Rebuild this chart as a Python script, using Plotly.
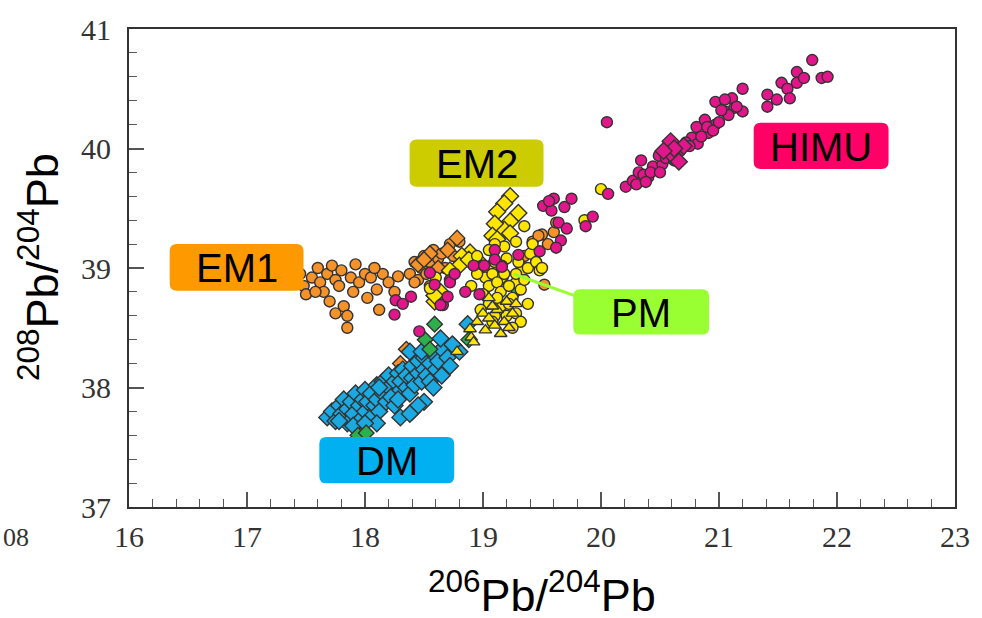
import plotly.graph_objects as go

# ---------------- data (206Pb/204Pb, 208Pb/204Pb) ----------------
em1_circ_x = [17.45,17.48,17.5,17.55,17.6,17.62,17.65,17.68,17.7,17.72,17.75,17.78,17.8,17.82,17.85,17.85,17.88,17.9,17.92,17.95,18.0,18.02,18.05,18.1,18.12,18.15,18.2,18.25,18.28,17.58,17.75,18.08,
              18.38,18.42,18.45,18.48,18.5,18.52,18.55,18.58,18.6,18.62,18.65,18.68,18.72,18.75,18.8,18.42,18.55,
              19.35,19.42,19.5,19.55,19.45,19.6,19.52,19.62,19.47]
em1_circ_y = [38.95,38.85,38.78,38.92,39.0,38.88,38.8,38.95,38.72,39.02,38.9,38.85,38.98,38.68,38.6,38.5,38.92,38.8,39.03,38.88,38.95,38.75,38.92,38.82,38.65,38.95,38.88,38.8,38.93,38.8,38.62,39.0,
              38.95,39.05,38.9,39.0,39.1,38.95,39.05,39.15,38.98,39.08,39.12,39.0,39.2,39.1,39.22,38.88,38.85,
              39.1,39.22,39.28,39.2,39.05,39.3,38.86,39.38,39.27]
em1_diam_x = [18.45,18.55,18.62,18.7,18.78,18.35,18.3,18.5]
em1_diam_y = [39.03,39.12,39.0,39.15,39.25,38.32,38.2,39.07]

dm_x = [17.68,17.72,17.75,17.78,17.8,17.82,17.85,17.85,17.88,17.9,17.92,17.95,17.95,17.98,18.0,18.0,18.02,18.05,18.05,18.08,
        18.1,18.1,18.12,18.15,18.15,18.18,18.2,18.2,18.22,18.25,18.25,18.28,18.3,18.3,18.32,18.35,18.35,18.38,18.4,18.4,
        18.42,18.45,18.45,18.48,18.5,18.5,18.52,18.55,18.55,18.58,18.6,18.62,18.65,18.65,18.7,18.72,18.75,18.8,18.87,18.64,
        18.74,18.38,18.1,18.28,17.9,18.0,18.48,18.58,18.12,17.78,18.3,18.4,18.5,18.45,18.38]
dm_y = [37.75,37.8,37.72,37.85,37.78,37.9,37.82,37.7,37.88,37.78,37.95,37.85,37.72,37.9,37.8,37.98,37.88,37.75,37.95,37.85,
        38.02,37.9,37.8,37.95,38.05,37.88,38.0,38.1,37.92,38.05,37.85,38.12,37.98,38.05,38.15,38.0,38.1,37.95,38.08,38.18,
        38.02,38.12,38.22,38.05,38.15,38.25,38.1,38.2,38.05,38.28,38.15,38.22,38.32,38.1,38.25,38.18,38.35,38.3,38.53,38.41,
        38.36,38.3,37.7,37.9,37.68,37.7,38.3,38.0,38.0,37.72,37.75,37.8,37.88,37.85,37.78]

pm_x = [17.94,18.01,18.59,18.51,18.55,18.88,19.29]
pm_y = [37.6,37.62,38.53,38.4,38.32,38.4,38.82]

em2_diam_x = [19.23,19.18,19.3,19.12,19.23,19.18,19.1,19.08,19.23,19.12,18.89,18.82,18.8,18.88,18.97,18.72,18.59,18.64,19.05,19.14,19.29,19.34,18.59,18.59]
em2_diam_y = [39.6,39.54,39.46,39.47,39.39,39.32,39.37,39.27,39.29,39.24,39.13,39.1,39.02,39.07,39.05,38.98,38.77,38.8,38.99,38.91,38.88,38.99,38.72,38.77]
em2_circ_x = [18.95,19.0,19.02,19.05,19.08,19.1,19.12,19.15,19.18,19.2,19.22,19.25,19.28,19.3,19.32,19.35,19.38,19.4,19.45,19.48,
              19.05,19.1,19.15,19.2,19.22,19.28,19.32,19.0,18.98,19.12,19.25,19.35,19.28,19.18,19.1,19.05,19.42,19.5,19.38,18.95,
              18.9,19.08,18.55,18.6,20.0,19.86]
em2_circ_y = [39.1,39.02,38.92,38.85,38.95,39.05,38.88,38.8,38.95,39.08,38.85,38.75,38.95,39.05,38.82,38.9,39.0,39.12,39.05,38.98,
              38.7,38.6,38.68,38.6,38.7,38.62,38.55,38.78,38.65,38.75,38.5,39.35,39.22,39.18,39.2,39.15,39.2,39.0,38.7,38.95,
              38.85,38.55,38.83,38.92,39.66,39.4]
em2_tri_x = [19.0,19.05,19.1,19.12,19.18,19.2,19.25,19.15,19.02,18.95,18.9,18.92,19.08,19.22,19.28,19.05,18.78,18.89]
em2_tri_y = [38.62,38.58,38.52,38.65,38.55,38.72,38.62,38.45,38.48,38.55,38.42,38.38,38.68,38.5,38.7,38.75,38.3,38.49]

himu_circ_x = [18.25,18.26,18.32,18.39,18.46,18.55,18.72,18.59,18.66,18.85,18.97,18.92,19.01,19.16,19.1,19.1,19.16,19.3,18.72,18.76,18.64,18.7,
               19.51,19.58,19.6,19.69,19.75,19.64,19.71,19.87,19.66,19.48,19.62,19.56,19.93,20.06,20.05,
               20.21,20.27,20.32,20.34,20.4,20.44,20.52,20.49,20.67,20.77,20.82,20.81,20.91,20.88,20.97,20.97,21.05,21.11,21.2,21.2,21.13,21.05,
               21.41,21.41,21.49,21.53,21.58,21.6,21.66,21.66,21.72,21.79,21.87,21.92,
               20.3,20.36,20.42,20.55,20.62,20.72,20.75,20.85,20.9,20.95,21.0,21.08,21.15,21.02,20.5,20.38]
himu_circ_y = [38.61,38.73,38.7,38.76,38.47,38.96,38.9,38.86,38.69,38.8,38.78,39.02,39.02,39.02,39.15,39.07,39.01,39.11,38.88,38.95,38.69,38.76,
               39.52,39.48,39.58,39.51,39.58,39.38,39.33,39.35,39.23,39.14,39.17,39.56,39.43,39.62,40.22,
               39.68,39.73,39.8,39.9,39.76,39.85,39.87,39.94,39.98,40.09,40.04,40.18,40.13,40.24,40.2,40.39,40.31,40.42,40.5,40.31,40.34,40.41,
               40.45,40.35,40.41,40.55,40.5,40.42,40.64,40.55,40.59,40.74,40.59,40.6,
               39.7,39.78,39.8,39.92,39.9,40.05,40.02,40.1,40.18,40.15,40.22,40.28,40.35,40.32,39.8,39.72]
himu_diam_x = [20.59,20.6,20.66,20.7,20.62,20.53]
himu_diam_y = [40.06,39.95,39.89,40.02,40.0,39.98]

x_ticks = [16, 17, 18, 19, 20, 21, 22, 23]
y_ticks = [37, 38, 39, 40, 41]

labels = ["EM1", "EM2", "HIMU", "PM", "DM"]

# ---------------- styles ----------------
OUT = dict(color="#333333", width=1.4)
C_OR, C_YE, C_MA, C_BL, C_GR = "#F5922A", "#FFE600", "#E2168A", "#1BA9E1", "#2DB04B"

fig = go.Figure()

def add(x, y, color, symbol, size):
    fig.add_trace(go.Scatter(x=x, y=y, mode="markers", showlegend=False, hoverinfo="skip",
                             marker=dict(color=color, symbol=symbol, size=size, line=OUT)))

add(em1_circ_x, em1_circ_y, C_OR, "circle", 11)
add(em1_diam_x, em1_diam_y, C_OR, "diamond", 12)
add(dm_x, dm_y, C_BL, "diamond", 13)
add(pm_x, pm_y, C_GR, "diamond", 12)
add(em2_diam_x, em2_diam_y, C_YE, "diamond", 13)
add(em2_circ_x, em2_circ_y, C_YE, "circle", 11)
add(em2_tri_x, em2_tri_y, C_YE, "triangle-up", 11)
add(himu_circ_x, himu_circ_y, C_MA, "circle", 11)
add(himu_diam_x, himu_diam_y, C_MA, "diamond", 13)

# ---------------- label boxes (data coords: x0, x1, y0, y1) ----------------
boxes = {
    "EM1":  (16.345, 17.479, 38.81, 39.20, "#FF9900"),
    "EM2":  (18.378, 19.513, 39.68, 40.076, "#CCCC00"),
    "HIMU": (21.294, 22.437, 39.829, 40.216, "#FF0066"),
    "PM":   (19.765, 20.916, 38.443, 38.823, "#99FF33"),
    "DM":   (17.613, 18.756, 37.198, 37.586, "#00B0F0"),
}
RX, RY = 0.06, 0.06

def rrect(x0, x1, y0, y1):
    return (f"M {x0+RX},{y1} L {x1-RX},{y1} Q {x1},{y1} {x1},{y1-RY} "
            f"L {x1},{y0+RY} Q {x1},{y0} {x1-RX},{y0} L {x0+RX},{y0} "
            f"Q {x0},{y0} {x0},{y0+RY} L {x0},{y1-RY} Q {x0},{y1} {x0+RX},{y1} Z")

shapes = [dict(type="line", xref="x", yref="y", x0=19.26, y0=38.95, x1=19.8, y1=38.76,
               line=dict(color="#99FF33", width=3))]
annotations = []
for name in labels:
    x0, x1, y0, y1, col = boxes[name]
    shapes.append(dict(type="path", xref="x", yref="y", path=rrect(x0, x1, y0, y1),
                       fillcolor=col, line=dict(width=0)))
    annotations.append(dict(x=(x0 + x1) / 2, y=(y0 + y1) / 2, xref="x", yref="y", text=name,
                            showarrow=False, font=dict(family="Liberation Sans, Arial", size=40, color="black"),
                            yshift=-1))

annotations.append(dict(xref="paper", yref="paper", x=0.5, y=0, yanchor="top", xanchor="center",
                        yshift=-54, showarrow=False,
                        text="<sup>206</sup>Pb/<sup>204</sup>Pb",
                        font=dict(family="Liberation Sans, Arial", size=45, color="black")))
annotations.append(dict(xref="paper", yref="paper", x=0, y=0.5, xanchor="center", yanchor="middle",
                        xshift=-90, yshift=1, textangle=-90, showarrow=False,
                        text="<sup>208</sup>Pb/<sup>204</sup>Pb",
                        font=dict(family="Liberation Sans, Arial", size=45, color="black")))
annotations.append(dict(xref="paper", yref="paper", x=0, y=0, xanchor="left", yanchor="top",
                        xshift=-128, yshift=-14, showarrow=False, text="08",
                        font=dict(family="Liberation Serif, Times New Roman", size=26, color="#333")))

TICKFONT = dict(family="Liberation Serif, Times New Roman", size=30, color="#333")
axis_common = dict(showgrid=False, zeroline=False, showline=True, mirror=True,
                   linecolor="#333", linewidth=2, ticks="inside", ticklen=15,
                   tickcolor="#555", tickwidth=1.5, tickfont=TICKFONT)

fig.update_layout(
    width=982, height=618,
    margin=dict(l=129, r=20, t=23, b=111),
    paper_bgcolor="white", plot_bgcolor="white",
    xaxis=dict(range=[16, 23], tickvals=x_ticks, ticktext=[str(v) for v in x_ticks],
               minor=dict(dtick=0.2, ticks="inside", ticklen=8, tickcolor="#555", tickwidth=1.2),
               ticklabelstandoff=2, **axis_common),
    yaxis=dict(range=[37, 41], tickvals=y_ticks, ticktext=[str(v) for v in y_ticks],
               minor=dict(dtick=0.2, ticks="inside", ticklen=8, tickcolor="#555", tickwidth=1.2),
               ticklabelstandoff=10, **axis_common),
    shapes=shapes, annotations=annotations,
)

fig.write_html("out.html")
